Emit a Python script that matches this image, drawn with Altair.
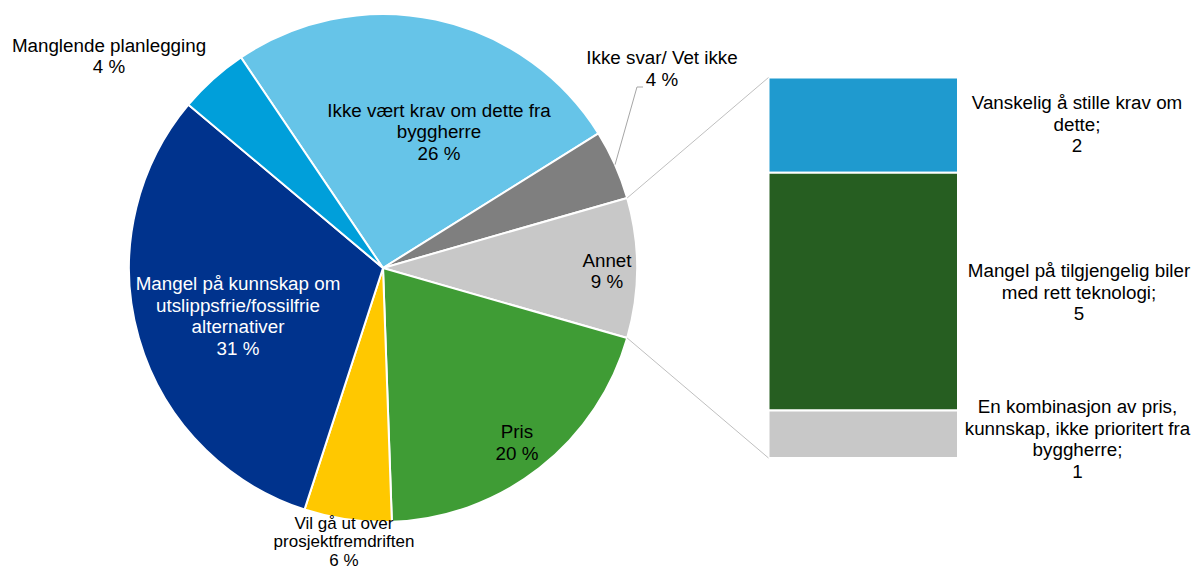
import math
import altair as alt
import pandas as pd

# ---------------- data ----------------
pie_names = [
    "Ikke vært krav om dette fra byggherre",
    "Ikke svar/ Vet ikke",
    "Annet",
    "Pris",
    "Vil gå ut over prosjektfremdriften",
    "Mangel på kunnskap om utslippsfrie/fossilfrie alternativer",
    "Manglende planlegging",
]
pie_label_lines = [
    "Ikke vært krav om dette fra\nbyggherre",
    "Ikke svar/ Vet ikke",
    "Annet",
    "Pris",
    "Vil gå ut over\nprosjektfremdriften",
    "Mangel på kunnskap om\nutslippsfrie/fossilfrie\nalternativer",
    "Manglende planlegging",
]
# answer counts (shown as rounded percentages)
pie_counts = [23, 4, 8, 18, 5, 28, 4]

bar_names = [
    "Vanskelig å stille krav om dette",
    "Mangel på tilgjengelig biler med rett teknologi",
    "En kombinasjon av pris, kunnskap, ikke prioritert fra byggherre",
]
bar_label_lines = [
    "Vanskelig å stille krav om\ndette;",
    "Mangel på tilgjengelig biler\nmed rett teknologi;",
    "En kombinasjon av pris,\nkunnskap, ikke prioritert fra\nbyggherre;",
]
bar_values = [2, 5, 1]

# ---------------- styles / layout ----------------
pie_colors = ["#66C4E8", "#7F7F7F", "#C8C8C8", "#3F9C35", "#FFC800", "#00338D", "#009FDA"]
pie_text_colors = ["#000000", "#000000", "#000000", "#000000", "#000000", "#FFFFFF", "#000000"]
bar_colors = ["#1F9ACF", "#265E21", "#C8C8C8"]

FONT = "Liberation Sans"
FS = 18.8
LH = 21.5
FS_TIGHT = 17
LH_TIGHT = 18.5
CX, CY, R = 375, 260, 254
START_DEG = -34
BAR_X0, BAR_X1 = 760.5, 950
BAR_TOP, BAR_BOTTOM = 69.5, 450
pie_label_pos = [(431, 108.7), (654, 56.3), (599, 258.7), (509, 430),
                 (336, 520.5), (230, 282), (101, 43.7)]
tight_label = "Vil gå ut over prosjektfremdriften"
bar_label_pos = [(1069, 101), (1071, 269), (1069.5, 405)]
leader_knee = [(629, 79), (635, 79)]

total = sum(pie_counts)
bar_total = sum(bar_values)

# ---------------- tables ----------------
pie_df = pd.DataFrame({"name": pie_names, "value": pie_counts, "idx": range(len(pie_counts))})

# bar stacked from the bottom (last item at bottom)
y0, y1 = [], []
acc = 0
for v in reversed(bar_values):
    y0.append(acc)
    acc += v
    y1.append(acc)
y0, y1 = y0[::-1], y1[::-1]
bar_df = pd.DataFrame({"name": bar_names, "value": bar_values, "y0": y0, "y1": y1})


def edge(frac, r=R):
    a = math.radians(START_DEG + frac * 360)
    return CX + r * math.sin(a), CY - r * math.cos(a)


cum = [sum(pie_counts[:i]) / total for i in range(len(pie_counts) + 1)]
i_annet = pie_names.index("Annet")
pa = edge(cum[i_annet])
pb = edge(cum[i_annet + 1])
conn_df = pd.DataFrame({
    "x": [pa[0], pb[0]], "y": [pa[1], pb[1]],
    "x2": [BAR_X0, BAR_X0], "y2": [BAR_TOP, BAR_BOTTOM],
})

i_svar = pie_names.index("Ikke svar/ Vet ikke")
p0 = edge((cum[i_svar] + cum[i_svar + 1]) / 2)
lead_pts = [p0] + leader_knee
leader_df = pd.DataFrame({
    "x": [p[0] for p in lead_pts[:-1]], "y": [p[1] for p in lead_pts[:-1]],
    "x2": [p[0] for p in lead_pts[1:]], "y2": [p[1] for p in lead_pts[1:]],
})

texts, xs, ys, tcs, tight = [], [], [], [], []
for name, lines, v, (x, y), c in zip(pie_names, pie_label_lines, pie_counts, pie_label_pos, pie_text_colors):
    pct = int(math.floor(100 * v / total + 0.5))
    texts.append(f"{lines}\n{pct} %")
    xs.append(x); ys.append(y); tcs.append(c); tight.append(name == tight_label)
for lines, v, (x, y) in zip(bar_label_lines, bar_values, bar_label_pos):
    texts.append(f"{lines}\n{v}")
    xs.append(x); ys.append(y); tcs.append("#000000"); tight.append(False)
text_df = pd.DataFrame({"text": texts, "x": xs, "y": ys, "tc": tcs, "tight": tight})

# ---------------- chart ----------------
arc = alt.Chart(pie_df).mark_arc(outerRadius=R, stroke="white", strokeWidth=2).encode(
    theta=alt.Theta("value:Q", stack=True,
                    scale=alt.Scale(domain=[0, total],
                                    range=[math.radians(START_DEG), math.radians(START_DEG) + 2 * math.pi])),
    color=alt.Color("name:N", scale=alt.Scale(domain=pie_names, range=pie_colors), legend=None),
    order=alt.Order("idx:Q"),
    x=alt.value(CX),
    y=alt.value(CY),
)

bar = alt.Chart(bar_df).mark_rect(stroke="white", strokeWidth=2).encode(
    x=alt.value(BAR_X0),
    x2=alt.value(BAR_X1),
    y=alt.Y("y0:Q", scale=alt.Scale(domain=[0, bar_total], range=[BAR_BOTTOM, BAR_TOP]), axis=None),
    y2="y1:Q",
    color=alt.Color("name:N", scale=alt.Scale(domain=bar_names, range=bar_colors), legend=None),
)

conn = alt.Chart(conn_df).mark_rule(color="#BFBFBF", strokeWidth=1).encode(
    x=alt.X("x:Q", scale=None), y=alt.Y("y:Q", scale=None),
    x2="x2:Q", y2="y2:Q",
)

leader = alt.Chart(leader_df).mark_rule(color="#A6A6A6", strokeWidth=1).encode(
    x=alt.X("x:Q", scale=None), y=alt.Y("y:Q", scale=None),
    x2="x2:Q", y2="y2:Q",
)


def text_layer(font_size, line_height, keep_tight):
    return alt.Chart(text_df).transform_filter(
        alt.datum.tight if keep_tight else ~alt.datum.tight
    ).mark_text(
        font=FONT, fontSize=font_size, lineHeight=line_height, lineBreak="\n",
        align="center", baseline="alphabetic",
    ).encode(
        x=alt.X("x:Q", scale=None), y=alt.Y("y:Q", scale=None),
        text="text:N",
        color=alt.Color("tc:N", scale=None),
    )


labels = text_layer(FS, LH, False)
labels_tight = text_layer(FS_TIGHT, LH_TIGHT, True)

chart = alt.layer(arc, bar, conn, leader, labels, labels_tight).resolve_scale(
    x="independent", y="independent", color="independent"
).properties(
    width=1184, height=561, padding=0,
    autosize=alt.AutoSizeParams(type="none"),
).configure_view(strokeWidth=0)

chart.save("out.html", embed_options={"renderer": "svg", "actions": False})
